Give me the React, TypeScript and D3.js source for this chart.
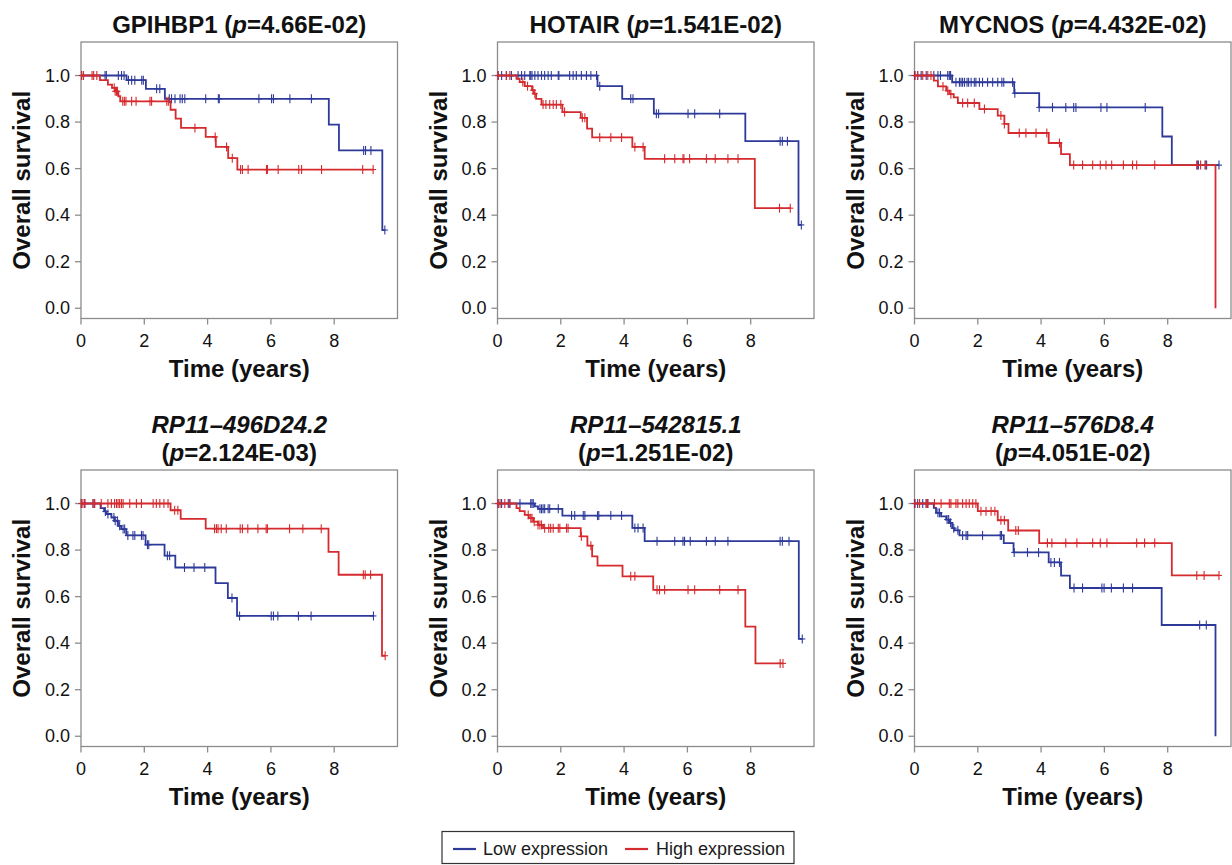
import React from "react";
import * as d3 from "d3";

type Step = [number, number];

// ---------- data (time in years, survival) ----------
const xTicks = [0, 2, 4, 6, 8];
const yTicks = [0, 0.2, 0.4, 0.6, 0.8, 1.0];
const legendLabels = ["Low expression", "High expression"];

// Panel 1: GPIHBP1
const gpihbp1LowSteps: Step[] = [[1.44, 0.98], [2.05, 0.943], [2.65, 0.90], [7.83, 0.789], [8.15, 0.678], [9.52, 0.336]];
const gpihbp1LowCens = [0.02, 0.76, 0.8, 1.18, 1.28, 1.36, 1.5, 1.6, 1.7, 1.92, 1.97, 2.39, 2.49, 2.79, 2.86, 2.97, 3.13, 3.2, 3.28, 3.94, 4.34, 4.37, 5.62, 6.02, 6.08, 6.6, 7.28, 8.93, 8.99, 9.16, 9.6];
const gpihbp1HighSteps: Step[] = [[0.6, 0.98], [0.85, 0.961], [0.98, 0.947], [1.08, 0.932], [1.18, 0.911], [1.24, 0.889], [2.83, 0.853], [2.99, 0.815], [3.16, 0.775], [3.94, 0.736], [4.26, 0.693], [4.65, 0.645], [4.94, 0.596]];
const gpihbp1HighCens = [0.02, 0.08, 0.35, 0.4, 0.5, 1.05, 1.08, 1.12, 1.15, 1.32, 1.37, 1.42, 1.6, 1.74, 2.18, 2.23, 2.71, 2.76, 3.6, 4.24, 4.6, 4.78, 5.04, 5.1, 5.28, 5.86, 5.89, 6.23, 6.88, 6.97, 7.6, 8.9, 9.23];

// Panel 2: HOTAIR
const hotairLowSteps: Step[] = [[3.16, 0.954], [3.94, 0.90], [4.94, 0.836], [7.83, 0.718], [9.51, 0.358]];
const hotairLowCens = [0.02, 0.13, 0.28, 0.44, 0.65, 0.76, 0.86, 1.02, 1.05, 1.09, 1.18, 1.28, 1.39, 1.49, 1.6, 1.7, 1.92, 1.94, 2.28, 2.39, 2.49, 2.65, 2.81, 2.95, 3.13, 3.23, 4.21, 4.28, 5.02, 5.09, 6.02, 6.23, 7.02, 8.93, 9.0, 9.16, 9.6];
const hotairHighSteps: Step[] = [[0.6, 0.986], [0.7, 0.972], [0.86, 0.954], [1.09, 0.937], [1.15, 0.922], [1.22, 0.9], [1.39, 0.875], [2.05, 0.843], [2.63, 0.818], [2.83, 0.772], [2.99, 0.734], [4.26, 0.693], [4.65, 0.642], [8.13, 0.43]];
const hotairHighCens = [0.02, 0.28, 0.39, 0.8, 0.95, 1.12, 1.18, 1.44, 1.53, 1.65, 1.76, 1.86, 2.0, 2.12, 2.68, 2.76, 3.23, 3.58, 3.92, 4.34, 4.6, 5.28, 5.6, 5.86, 5.89, 6.07, 6.6, 6.88, 7.28, 7.6, 8.91, 9.25];

// Panel 3: MYCNOS
const mycnosLowSteps: Step[] = [[1.19, 0.971], [3.15, 0.924], [3.94, 0.863], [7.83, 0.738], [8.13, 0.615]];
const mycnosLowCens = [0.0, 0.1, 0.21, 0.37, 0.61, 0.74, 0.82, 1.05, 1.1, 1.14, 1.31, 1.42, 1.47, 1.52, 1.58, 1.66, 1.71, 1.79, 1.89, 1.94, 2.05, 2.15, 2.31, 2.47, 2.63, 2.76, 2.82, 3.1, 3.17, 3.94, 4.36, 4.78, 5.03, 5.1, 5.89, 6.08, 7.29, 8.92, 8.97, 9.18, 9.23, 9.62];
const mycnosHighSteps: Step[] = [[0.61, 0.978], [0.74, 0.953], [1.0, 0.935], [1.1, 0.92], [1.24, 0.906], [1.37, 0.882], [2.05, 0.856], [2.63, 0.828], [2.84, 0.792], [2.97, 0.753], [4.24, 0.71], [4.63, 0.662], [4.91, 0.615], [9.51, 0.0]];
const mycnosHighCens = [0.02, 0.1, 0.26, 0.42, 0.52, 0.9, 1.05, 1.15, 1.52, 1.68, 1.89, 2.21, 2.73, 2.84, 3.31, 3.52, 3.84, 4.18, 4.58, 5.03, 5.31, 5.63, 5.87, 6.05, 6.23, 6.6, 6.89, 7.02, 7.59, 8.94, 9.04, 9.2];

// Panel 4: RP11-496D24.2
const rp496LowSteps: Step[] = [[0.62, 0.98], [0.73, 0.966], [0.8, 0.955], [0.96, 0.94], [1.06, 0.926], [1.17, 0.904], [1.27, 0.89], [1.43, 0.863], [2.04, 0.823], [2.64, 0.776], [2.98, 0.725], [4.25, 0.658], [4.64, 0.594], [4.93, 0.517]];
const rp496LowCens = [0.01, 0.12, 0.38, 0.43, 0.77, 0.85, 1.04, 1.08, 1.15, 1.22, 1.33, 1.38, 1.48, 1.64, 1.7, 1.91, 1.96, 2.1, 2.14, 2.73, 2.8, 3.27, 3.57, 3.91, 4.77, 5.01, 6.01, 6.08, 6.22, 6.87, 7.27, 9.24];
const rp496HighSteps: Step[] = [[2.83, 0.971], [3.15, 0.934], [3.94, 0.892], [7.82, 0.792], [8.14, 0.694], [9.51, 0.346]];
const rp496HighCens = [0.01, 0.06, 0.12, 0.38, 0.43, 0.64, 0.85, 0.96, 1.06, 1.12, 1.17, 1.22, 1.28, 1.33, 1.54, 1.75, 1.91, 2.28, 2.38, 2.49, 2.62, 2.75, 2.96, 3.06, 4.22, 4.28, 4.33, 4.43, 4.59, 5.03, 5.1, 5.27, 5.59, 5.85, 5.89, 6.59, 7.01, 7.59, 8.92, 8.98, 9.15, 9.61];

// Panel 5: RP11-542815.1
const rp542LowSteps: Step[] = [[1.18, 0.988], [1.28, 0.977], [2.05, 0.948], [4.26, 0.895], [4.65, 0.838], [9.52, 0.418]];
const rp542LowCens = [0.02, 0.13, 0.34, 0.39, 0.71, 1.05, 1.09, 1.13, 1.34, 1.39, 1.44, 1.49, 1.6, 1.65, 1.92, 2.34, 2.44, 2.71, 2.76, 3.16, 3.2, 3.58, 3.92, 4.34, 4.44, 4.6, 5.04, 5.6, 5.86, 5.91, 6.09, 6.6, 6.88, 7.28, 8.93, 9.0, 9.21, 9.63];
const rp542HighSteps: Step[] = [[0.6, 0.98], [0.7, 0.967], [0.86, 0.951], [0.99, 0.937], [1.13, 0.922], [1.28, 0.908], [1.44, 0.894], [2.63, 0.859], [2.84, 0.819], [2.99, 0.773], [3.16, 0.733], [3.95, 0.687], [4.92, 0.629], [7.83, 0.471], [8.15, 0.313]];
const rp542HighCens = [0.02, 0.08, 0.23, 0.39, 0.97, 1.05, 1.09, 1.16, 1.28, 1.34, 1.39, 1.49, 1.62, 1.68, 1.76, 1.92, 1.97, 2.18, 2.23, 2.65, 2.95, 4.21, 4.34, 5.04, 5.12, 5.28, 6.02, 6.23, 7.02, 7.6, 8.93, 9.02];

// Panel 6: RP11-576D8.4
const rp576LowSteps: Step[] = [[0.61, 0.981], [0.68, 0.96], [0.84, 0.945], [1.0, 0.931], [1.1, 0.917], [1.19, 0.894], [1.26, 0.885], [1.42, 0.863], [2.82, 0.83], [3.13, 0.79], [4.24, 0.747], [4.63, 0.69], [4.91, 0.637], [7.81, 0.478], [9.51, 0.0]];
const rp576LowCens = [0.0, 0.1, 0.26, 0.37, 0.42, 0.74, 0.79, 1.03, 1.08, 1.14, 1.24, 1.37, 1.52, 1.63, 1.68, 2.15, 2.71, 2.75, 3.15, 3.57, 3.92, 4.31, 4.42, 4.58, 5.04, 5.31, 5.92, 5.99, 6.22, 6.6, 6.89, 9.01, 9.22];
const rp576HighSteps: Step[] = [[2.0, 0.967], [2.63, 0.928], [2.96, 0.884], [3.94, 0.83], [8.13, 0.691]];
const rp576HighCens = [0.02, 0.16, 0.37, 0.42, 0.63, 0.84, 1.1, 1.15, 1.31, 1.37, 1.52, 1.63, 1.73, 1.84, 1.94, 2.1, 2.26, 2.42, 2.54, 2.73, 2.84, 3.2, 3.28, 4.2, 4.34, 4.78, 5.13, 5.63, 5.87, 6.08, 7.02, 7.27, 7.59, 8.92, 9.15, 9.62];

// ---------- layout ----------
const W = 1232;
const H = 865;
const colX = [81, 497.5, 914.5];
const rowTop = [42, 470];
const boxW = 316.5;
const boxH = 276.5;
const BLUE = "#2e3a9a";
const RED = "#d52a2e";
const AXIS = "#8c8c8c";
const FONT = "Arial, 'Liberation Sans', Helvetica, sans-serif";

type Panel = {
  gene: string;
  p: string;
  italic: boolean;
  two: boolean;
  low: Step[];
  lowC: number[];
  high: Step[];
  highC: number[];
};

const panels: Panel[] = [
  { gene: "GPIHBP1", p: "4.66E-02", italic: false, two: false, low: gpihbp1LowSteps, lowC: gpihbp1LowCens, high: gpihbp1HighSteps, highC: gpihbp1HighCens },
  { gene: "HOTAIR", p: "1.541E-02", italic: false, two: false, low: hotairLowSteps, lowC: hotairLowCens, high: hotairHighSteps, highC: hotairHighCens },
  { gene: "MYCNOS", p: "4.432E-02", italic: false, two: false, low: mycnosLowSteps, lowC: mycnosLowCens, high: mycnosHighSteps, highC: mycnosHighCens },
  { gene: "RP11\u2013496D24.2", p: "2.124E-03", italic: true, two: true, low: rp496LowSteps, lowC: rp496LowCens, high: rp496HighSteps, highC: rp496HighCens },
  { gene: "RP11\u2013542815.1", p: "1.251E-02", italic: true, two: true, low: rp542LowSteps, lowC: rp542LowCens, high: rp542HighSteps, highC: rp542HighCens },
  { gene: "RP11\u2013576D8.4", p: "4.051E-02", italic: true, two: true, low: rp576LowSteps, lowC: rp576LowCens, high: rp576HighSteps, highC: rp576HighCens },
];

function survAt(steps: Step[], t: number): number {
  let s = 1;
  for (const [st, sv] of steps) if (st <= t) s = sv;
  return s;
}

function Curve({ steps, cens, color, x, y }: { steps: Step[]; cens: number[]; color: string; x: d3.ScaleLinear<number, number>; y: d3.ScaleLinear<number, number> }) {
  const lastStep = steps.length ? steps[steps.length - 1][0] : 0;
  const end = Math.max(lastStep, ...cens);
  const pts: Step[] = [[0, 1], ...steps, [end, steps.length ? steps[steps.length - 1][1] : 1]];
  const line = d3
    .line<Step>()
    .x((d) => x(d[0]))
    .y((d) => y(d[1]))
    .curve(d3.curveStepAfter);
  return (
    <g>
      <path d={line(pts) || ""} fill="none" stroke={color} strokeWidth={1.8} />
      {cens.map((c, i) => {
        const cx = x(c);
        const cy = y(survAt(steps, c));
        return (
          <g key={i} stroke={color} strokeWidth={1.1}>
            <line x1={cx} x2={cx} y1={cy - 4.5} y2={cy + 4.5} />
            <line x1={cx - 3} x2={cx + 3} y1={cy} y2={cy} />
          </g>
        );
      })}
    </g>
  );
}

function PanelView({ panel, idx }: { panel: Panel; idx: number }) {
  const col = idx % 3;
  const row = Math.floor(idx / 3);
  const x0 = colX[col];
  const top = rowTop[row];
  const bottom = top + boxH;
  const x = d3.scaleLinear().domain([0, 10]).range([x0, x0 + boxW]);
  const y = d3.scaleLinear().domain([-0.044, 1.144]).range([bottom, top]);
  const cx = x0 + boxW / 2;
  const cy = (top + bottom) / 2;
  return (
    <g>
      {/* title */}
      {panel.two ? (
        <g fontFamily={FONT} fontWeight="bold" fontSize={24} textAnchor="middle" fill="#111">
          <text x={cx} y={top - 37} fontStyle="italic">{panel.gene}</text>
          <text x={cx} y={top - 9}>
            (<tspan fontStyle="italic">p</tspan>={panel.p})
          </text>
        </g>
      ) : (
        <text x={cx} y={top - 9} fontFamily={FONT} fontWeight="bold" fontSize={24} textAnchor="middle" fill="#111">
          {panel.gene} (<tspan fontStyle="italic">p</tspan>={panel.p})
        </text>
      )}
      {/* box */}
      <rect x={x0} y={top} width={boxW} height={boxH} fill="none" stroke={AXIS} strokeWidth={1.3} />
      {/* y axis */}
      {yTicks.map((t) => (
        <g key={t}>
          <line x1={x0 - 6} x2={x0} y1={y(t)} y2={y(t)} stroke={AXIS} strokeWidth={1.3} />
          <text x={x0 - 11} y={y(t) + 6} textAnchor="end" fontFamily={FONT} fontSize={18} fill="#111">
            {t.toFixed(1)}
          </text>
        </g>
      ))}
      {/* x axis */}
      {xTicks.map((t) => (
        <g key={t}>
          <line x1={x(t)} x2={x(t)} y1={bottom} y2={bottom + 6} stroke={AXIS} strokeWidth={1.3} />
          <text x={x(t)} y={bottom + 28} textAnchor="middle" fontFamily={FONT} fontSize={18} fill="#111">
            {t}
          </text>
        </g>
      ))}
      <text x={cx} y={bottom + 58} textAnchor="middle" fontFamily={FONT} fontWeight="bold" fontSize={24} fill="#111">
        Time (years)
      </text>
      <text
        transform={`translate(${x0 - 51},${cy}) rotate(-90)`}
        textAnchor="middle"
        fontFamily={FONT}
        fontWeight="bold"
        fontSize={24}
        fill="#111"
      >
        Overall survival
      </text>
      <Curve steps={panel.low} cens={panel.lowC} color={BLUE} x={x} y={y} />
      <Curve steps={panel.high} cens={panel.highC} color={RED} x={x} y={y} />
    </g>
  );
}

export default function App() {
  return (
    <svg width={W} height={H} style={{ position: "absolute", left: 0, top: 0, background: "#fff" }}>
      <rect width={W} height={H} fill="#fff" />
      {panels.map((p, i) => (
        <PanelView key={i} panel={p} idx={i} />
      ))}
      {/* legend */}
      <g fontFamily={FONT} fontSize={18} fill="#1a1a1a">
        <rect x={442} y={831.5} width={352} height={32} fill="#fff" stroke="#333" strokeWidth={1.2} />
        <line x1={453} x2={476} y1={849} y2={849} stroke={BLUE} strokeWidth={2.2} />
        <text x={483} y={855}>{legendLabels[0]}</text>
        <line x1={625} x2={648} y1={849} y2={849} stroke={RED} strokeWidth={2.2} />
        <text x={656} y={855}>{legendLabels[1]}</text>
      </g>
    </svg>
  );
}
